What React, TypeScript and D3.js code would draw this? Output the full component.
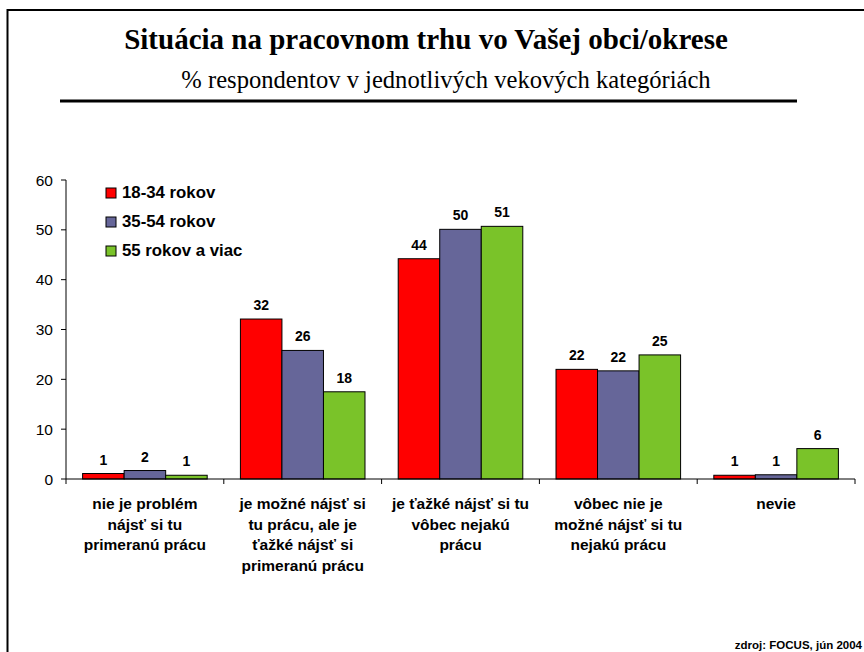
import * as d3 from 'd3'

const categories = [
  ['nie je problém', 'nájsť si tu', 'primeranú prácu'],
  ['je možné nájsť si', 'tu prácu, ale je', 'ťažké nájsť si', 'primeranú prácu'],
  ['je ťažké nájsť si tu', 'vôbec nejakú', 'prácu'],
  ['vôbec nie je', 'možné nájsť si tu', 'nejakú prácu'],
  ['nevie'],
]

const seriesNames = ['18-34 rokov', '35-54 rokov', '55 rokov a viac']
const seriesColors = ['#ff0000', '#666699', '#7ac329']

// bar heights as drawn, labels as printed
const young = [1.1, 32.1, 44.2, 22.0, 0.75]
const middle = [1.7, 25.8, 50.1, 21.7, 0.85]
const older = [0.75, 17.5, 50.7, 24.9, 6.1]
const youngLabels = ['1', '32', '44', '22', '1']
const middleLabels = ['2', '26', '50', '22', '1']
const olderLabels = ['1', '18', '51', '25', '6']

const yTicks = [0, 10, 20, 30, 40, 50, 60]

const W = 864
const H = 652
const plot = { left: 66, right: 855, top: 180, bottom: 479 }
const sans = "'Liberation Sans', Arial, sans-serif"
const serif = "'Liberation Serif', 'Times New Roman', serif"

export default function App() {
  const series = [young, middle, older]
  const labels = [youngLabels, middleLabels, olderLabels]
  const idx = categories.map((_, i) => i)

  const x = d3.scaleBand<number>().domain(idx).range([plot.left, plot.right]).padding(0)
  const inner = d3.scaleBand<number>().domain([0, 1, 2]).range([0, x.bandwidth()]).paddingOuter(0.4).paddingInner(0)
  const y = d3.scaleLinear().domain([0, 60]).range([plot.bottom, plot.top])

  const boundaries = idx.map((i) => x(i)!).concat([plot.right])

  return (
    <div style={{ position: 'absolute', left: 0, top: 0 }}>
      <svg width={W} height={H} style={{ display: 'block', background: '#fff' }}>
        <rect x={7.5} y={10} width={W + 10} height={H + 10} fill="#fff" stroke="#000" strokeWidth={2} />

        <text x={426} y={49} textAnchor="middle" fontFamily={serif} fontWeight="bold" fontSize={29}>
          Situácia na pracovnom trhu vo Vašej obci/okrese
        </text>
        <text x={446} y={88} textAnchor="middle" fontFamily={serif} fontSize={24.6}>
          % respondentov v jednotlivých vekových kategóriách
        </text>
        <line x1={60} x2={797} y1={101} y2={101} stroke="#000" strokeWidth={3} />

        {/* y axis */}
        <line x1={plot.left} x2={plot.left} y1={plot.top} y2={plot.bottom} stroke="#000" />
        {yTicks.map((t) => (
          <g key={t}>
            <line x1={plot.left - 5} x2={plot.left} y1={y(t)} y2={y(t)} stroke="#000" />
            <text x={53} y={y(t) + 5.5} textAnchor="end" fontFamily={sans} fontSize={15.5}>
              {t}
            </text>
          </g>
        ))}

        {/* bars */}
        {series.map((vals, s) =>
          vals.map((v, i) => {
            const bx = x(i)! + inner(s)!
            return (
              <g key={`${s}-${i}`}>
                <rect x={bx} y={y(v)} width={inner.bandwidth()} height={plot.bottom - y(v)} fill={seriesColors[s]} stroke="#000" strokeWidth={1} />
                <text x={bx + inner.bandwidth() / 2} y={y(v) - 9} textAnchor="middle" fontFamily={sans} fontWeight="bold" fontSize={14}>
                  {labels[s][i]}
                </text>
              </g>
            )
          }),
        )}

        {/* x axis */}
        <line x1={plot.left} x2={plot.right} y1={plot.bottom} y2={plot.bottom} stroke="#000" />
        {boundaries.map((b, i) => (
          <line key={i} x1={b} x2={b} y1={plot.bottom} y2={plot.bottom + 5} stroke="#000" />
        ))}
        {categories.map((lines, i) => (
          <text key={i} textAnchor="middle" fontFamily={sans} fontWeight="bold" fontSize={15.5}>
            {lines.map((l, j) => (
              <tspan key={j} x={x(i)! + x.bandwidth() / 2} y={509 + j * 20.5}>
                {l}
              </tspan>
            ))}
          </text>
        ))}

        {/* legend */}
        {seriesNames.map((n, s) => (
          <g key={n} transform={`translate(106,${188 + s * 29})`}>
            <rect x={0} y={0} width={10} height={10} fill={seriesColors[s]} stroke="#000" strokeWidth={1} />
            <text x={16} y={10} fontFamily={sans} fontWeight="bold" fontSize={16.8}>
              {n}
            </text>
          </g>
        ))}

        <text x={862} y={649} textAnchor="end" fontFamily={sans} fontWeight="bold" fontSize={11.5}>
          zdroj: FOCUS, jún 2004
        </text>
      </svg>
    </div>
  )
}
